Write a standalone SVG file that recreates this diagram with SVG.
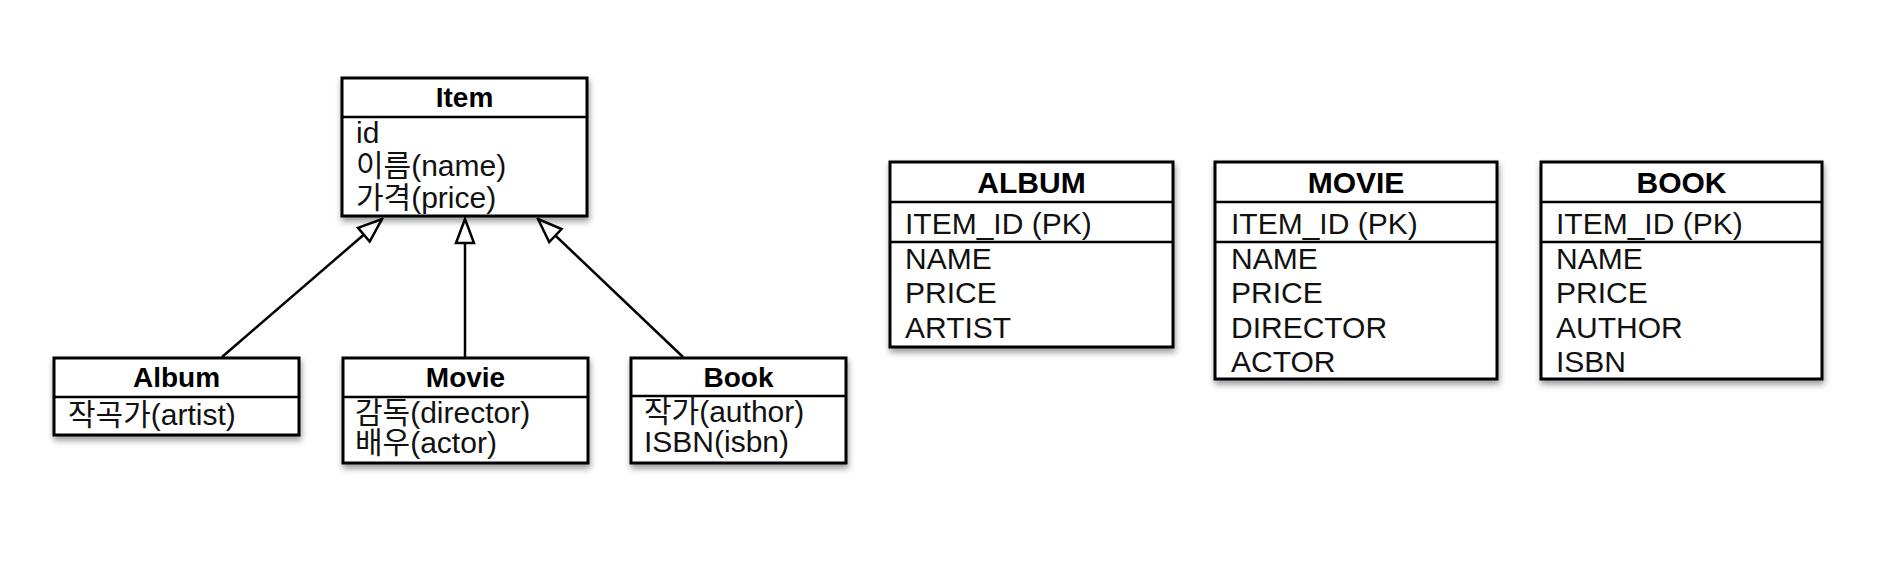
<svg xmlns="http://www.w3.org/2000/svg" width="1894" height="572" viewBox="0 0 1894 572">
<style>
.box{fill:#fff;stroke:#000;stroke-width:3;filter:url(#sh)}
.div{stroke:#000;stroke-width:2.5;fill:none}
.hd{font-family:"Liberation Sans","Noto Sans CJK KR",sans-serif;font-weight:bold;font-size:28px;text-anchor:middle;fill:#000}
.th{font-family:"Liberation Sans","Noto Sans CJK KR",sans-serif;font-weight:bold;font-size:30px;text-anchor:middle;fill:#000}
.at{font-family:"Liberation Sans","Noto Sans CJK KR",sans-serif;font-size:30px;fill:#111}
.tt{font-family:"Liberation Sans","Noto Sans CJK KR",sans-serif;font-size:30px;fill:#111}
.conn{stroke:#000;stroke-width:2.5;fill:none;marker-end:url(#tri)}
</style>
<defs>
<filter id="sh" x="-10%" y="-10%" width="120%" height="130%">
<feDropShadow dx="1" dy="4" stdDeviation="3" flood-color="#000" flood-opacity="0.4"/>
</filter>
<marker id="tri" viewBox="0 0 28 22" refX="26" refY="11" markerWidth="28" markerHeight="22" markerUnits="userSpaceOnUse" orient="auto">
<path d="M2,2 L26,11 L2,20 Z" fill="#fff" stroke="#000" stroke-width="2.5" stroke-linejoin="miter"/>
</marker>
</defs>
<rect width="1894" height="572" fill="#fff"/>

<g id="connectors">
<line class="conn" x1="222" y1="357" x2="382" y2="219"/>
<line class="conn" x1="465" y1="358" x2="465" y2="219"/>
<line class="conn" x1="683" y1="357" x2="538" y2="219"/>
</g>

<g id="item">
<rect class="box" x="342" y="78" width="245" height="138"/>
<line class="div" x1="342" y1="117" x2="587" y2="117"/>
<text class="hd" x="464.5" y="107">Item</text>
<text class="at" x="356" y="143">id</text>
<text class="at" x="356" y="176">이름(name)</text>
<text class="at" x="356" y="208">가격(price)</text>
</g>

<g id="album">
<rect class="box" x="54" y="358" width="245" height="77"/>
<line class="div" x1="54" y1="397" x2="299" y2="397"/>
<text class="hd" x="176.5" y="387">Album</text>
<text class="at" x="68" y="425">작곡가(artist)</text>
</g>

<g id="movie">
<rect class="box" x="343" y="358" width="245" height="105"/>
<line class="div" x1="343" y1="397" x2="588" y2="397"/>
<text class="hd" x="465.5" y="387">Movie</text>
<text class="at" x="355" y="423">감독(director)</text>
<text class="at" x="355" y="453">배우(actor)</text>
</g>

<g id="book">
<rect class="box" x="631" y="358" width="215" height="105"/>
<line class="div" x1="631" y1="396" x2="846" y2="396"/>
<text class="hd" x="738.5" y="387">Book</text>
<text class="at" x="644" y="422">작가(author)</text>
<text class="at" x="644" y="452">ISBN(isbn)</text>
</g>

<g id="table-album">
<rect class="box" x="890" y="162" width="283" height="185"/>
<line class="div" x1="890" y1="202" x2="1173" y2="202"/>
<line class="div" x1="890" y1="242" x2="1173" y2="242" stroke-width="3"/>
<text class="th" x="1031.5" y="193">ALBUM</text>
<text class="tt" x="905" y="234">ITEM_ID (PK)</text>
<text class="tt" x="905" y="269">NAME</text>
<text class="tt" x="905" y="303">PRICE</text>
<text class="tt" x="905" y="338">ARTIST</text>
</g>

<g id="table-movie">
<rect class="box" x="1215" y="162" width="282" height="217"/>
<line class="div" x1="1215" y1="202" x2="1497" y2="202"/>
<line class="div" x1="1215" y1="242" x2="1497" y2="242" stroke-width="3"/>
<text class="th" x="1356" y="193">MOVIE</text>
<text class="tt" x="1231" y="234">ITEM_ID (PK)</text>
<text class="tt" x="1231" y="269">NAME</text>
<text class="tt" x="1231" y="303">PRICE</text>
<text class="tt" x="1231" y="338">DIRECTOR</text>
<text class="tt" x="1231" y="372">ACTOR</text>
</g>

<g id="table-book">
<rect class="box" x="1541" y="162" width="281" height="217"/>
<line class="div" x1="1541" y1="202" x2="1822" y2="202"/>
<line class="div" x1="1541" y1="242" x2="1822" y2="242" stroke-width="3"/>
<text class="th" x="1681.5" y="193">BOOK</text>
<text class="tt" x="1556" y="234">ITEM_ID (PK)</text>
<text class="tt" x="1556" y="269">NAME</text>
<text class="tt" x="1556" y="303">PRICE</text>
<text class="tt" x="1556" y="338">AUTHOR</text>
<text class="tt" x="1556" y="372">ISBN</text>
</g>
</svg>
